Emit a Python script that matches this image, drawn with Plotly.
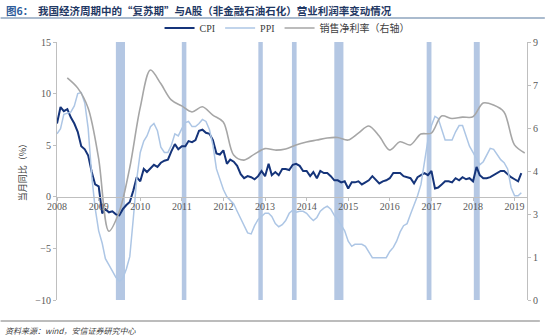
import plotly.graph_objects as go
import pandas as pd

# ---------------- data ----------------
months = pd.date_range("2008-01-01", "2019-03-01", freq="MS").strftime("%Y-%m-%d").tolist()

cpi = [7.1, 8.7, 8.3, 8.5, 7.7, 7.1, 6.3, 4.9, 4.6, 4.0, 2.4, 1.2,
       1.0, -1.6, -1.2, -1.5, -1.4, -1.7, -1.8, -1.2, -0.8, -0.5, 0.6, 1.9,
       1.5, 2.7, 2.4, 2.8, 3.1, 2.9, 3.3, 3.5, 3.6, 4.4, 5.1, 4.6,
       4.9, 4.9, 5.4, 5.3, 5.5, 6.4, 6.5, 6.2, 6.1, 5.5, 4.2, 4.1,
       4.5, 3.2, 3.6, 3.4, 3.0, 2.2, 1.8, 2.0, 1.9, 1.7, 2.0, 2.5,
       2.0, 3.2, 2.1, 2.4, 2.1, 2.7, 2.7, 2.6, 3.1, 3.2, 3.0, 2.5,
       2.5, 2.0, 2.4, 1.8, 2.5, 2.3, 2.3, 2.0, 1.6, 1.6, 1.4, 1.5,
       0.8, 1.4, 1.4, 1.5, 1.2, 1.4, 1.6, 2.0, 1.6, 1.3, 1.5, 1.6,
       1.8, 2.3, 2.3, 2.3, 2.0, 1.9, 1.8, 1.3, 1.9, 2.1, 2.3, 2.1,
       2.5, 0.8, 0.9, 1.2, 1.5, 1.5, 1.4, 1.8, 1.6, 1.9, 1.7, 1.8,
       1.5, 2.9, 2.1, 1.8, 1.8, 1.9, 2.1, 2.3, 2.5, 2.5, 2.2, 1.9,
       1.7, 1.5, 2.3]

ppi = [6.1, 6.6, 8.0, 8.1, 8.2, 8.8, 10.0, 10.1, 9.1, 6.6, 2.0, -1.1,
       -3.3, -4.5, -6.0, -6.6, -7.2, -7.8, -8.2, -7.9, -7.0, -5.8, -2.1, 1.7,
       4.3, 5.4, 5.9, 6.8, 7.1, 6.4, 4.8, 4.3, 4.3, 5.0, 6.1, 5.9,
       6.6, 7.2, 7.3, 6.8, 6.8, 7.1, 7.5, 7.3, 6.5, 5.0, 2.7, 1.7,
       0.7, 0.0, -0.3, -0.7, -1.4, -2.1, -2.9, -3.5, -3.6, -2.8, -2.2, -1.9,
       -1.6, -1.6, -1.9, -2.6, -2.9, -2.7, -2.3, -1.6, -1.3, -1.5, -1.4, -1.4,
       -1.6, -2.0, -2.3, -2.0, -1.4, -1.1, -0.9, -1.2, -1.8, -2.2, -2.7, -3.3,
       -4.3, -4.8, -4.6, -4.6, -4.6, -4.8, -5.4, -5.9, -5.9, -5.9, -5.9, -5.9,
       -5.3, -4.9, -4.3, -3.4, -2.8, -2.6, -1.7, -0.8, 0.1, 1.2, 3.3, 5.5,
       6.9, 7.8, 7.6, 6.4, 5.5, 5.5, 5.5, 6.3, 6.9, 6.9, 5.8, 4.9,
       4.3, 3.7, 3.1, 3.4, 4.1, 4.7, 4.6, 4.1, 3.6, 3.3, 2.7, 0.9,
       0.1, 0.1, 0.4]

quarters = ["2008-03-31", "2008-06-30", "2008-09-30", "2008-12-31",
            "2009-03-31", "2009-06-30", "2009-09-30", "2009-12-31",
            "2010-03-31", "2010-06-30", "2010-09-30", "2010-12-31",
            "2011-03-31", "2011-06-30", "2011-09-30", "2011-12-31",
            "2012-03-31", "2012-06-30", "2012-09-30", "2012-12-31",
            "2013-03-31", "2013-06-30", "2013-09-30", "2013-12-31",
            "2014-03-31", "2014-06-30", "2014-09-30", "2014-12-31",
            "2015-03-31", "2015-06-30", "2015-09-30", "2015-12-31",
            "2016-03-31", "2016-06-30", "2016-09-30", "2016-12-31",
            "2017-03-31", "2017-06-30", "2017-09-30", "2017-12-31",
            "2018-03-31", "2018-06-30", "2018-09-30", "2018-12-31",
            "2019-03-31"]
net_margin = [7.75, 7.40, 6.70, 4.95,
              2.40, 3.07, 4.60, 6.70,
              8.02, 7.55, 6.98, 6.77,
              6.56, 6.74, 6.45, 6.21,
              5.06, 4.88, 5.09, 5.28,
              5.23, 5.27, 5.41, 5.51,
              5.58, 5.65, 5.67, 5.58,
              5.82, 6.07, 5.72, 5.23,
              5.52, 5.41, 5.79, 5.82,
              6.42, 6.33, 6.38, 6.39,
              6.87, 6.80, 6.56, 5.41,
              5.13]

recovery_start = ["2009-06-01", "2011-01-01", "2012-11-03", "2013-08-25",
                  "2014-09-01", "2016-11-20", "2018-01-08"]
recovery_end = ["2009-08-20", "2011-02-10", "2012-12-12", "2013-10-05",
                "2014-11-20", "2017-01-01", "2018-03-01"]

year_ticks = [f"{y}-01-01" for y in range(2008, 2020)]
year_labels = [str(y) for y in range(2008, 2020)]
right_tickvals = [0, 1.5, 3, 4.5, 6, 7.5, 9]
right_ticktext = ["0", "1", "3", "4", "6", "7", "9"]

# ---------------- figure ----------------
W, H = 550, 336
ML, MR, MT, MB = 57, 18, 42, 36
pw, ph = W - ML - MR, H - MT - MB

def px_x(p):
    return (p - ML) / pw

def px_y(p):
    return (H - MB - p) / ph

fig = go.Figure()

for s, e in zip(recovery_start, recovery_end):
    fig.add_vrect(x0=s, x1=e, fillcolor="#B4C7E3", line_width=0, layer="below", opacity=1)

fig.add_trace(go.Scatter(x=months, y=cpi, name="CPI", mode="lines",
                         line=dict(color="#15347A", width=2)))
fig.add_trace(go.Scatter(x=months, y=ppi, name="PPI", mode="lines",
                         line=dict(color="#ADC6E5", width=1.5)))
fig.add_trace(go.Scatter(x=quarters, y=net_margin, name="销售净利率（右轴）", mode="lines",
                         line=dict(color="#A6A6A6", width=1.6, shape="spline", smoothing=0.9),
                         yaxis="y2"))

tickfont = dict(family="Liberation Serif", size=10, color="#595959")

fig.update_layout(
    width=W, height=H,
    margin=dict(l=ML, r=MR, t=MT, b=MB),
    paper_bgcolor="white", plot_bgcolor="white",
    showlegend=True,
    legend=dict(orientation="h", x=px_x(290), y=px_y(28), xanchor="center", yanchor="middle",
                font=dict(family="Liberation Serif, Noto Sans CJK SC", size=10, color="#404040"),
                bgcolor="rgba(0,0,0,0)", itemwidth=30, tracegroupgap=0),
    xaxis=dict(type="date", range=["2008-01-01", "2019-04-20"],
               tickvals=year_ticks, ticktext=year_labels,
               anchor="free", position=0.4,
               showline=True, linecolor="#BFBFBF", linewidth=1,
               ticks="outside", ticklen=3, tickcolor="#BFBFBF",
               ticklabelstandoff=-3,
               showgrid=False, zeroline=False, tickfont=tickfont),
    yaxis=dict(range=[-10, 15], tickvals=[-10, -5, 0, 5, 10, 15],
               showline=True, linecolor="#BFBFBF", linewidth=1,
               ticks="outside", ticklen=3, tickcolor="#BFBFBF",
               showgrid=False, zeroline=False, tickfont=tickfont),
    yaxis2=dict(range=[0, 9], overlaying="y", side="right",
                tickvals=right_tickvals, ticktext=right_ticktext,
                showline=True, linecolor="#BFBFBF", linewidth=1,
                ticks="outside", ticklen=3, tickcolor="#BFBFBF",
                showgrid=False, zeroline=False, tickfont=tickfont),
)

# title
fig.add_annotation(xref="paper", yref="paper", x=px_x(3), y=px_y(10), xanchor="left", yanchor="middle",
                   showarrow=False,
                   text="<b><span style='color:#2E5C9A'>图6：</span>  我国经济周期中的“复苏期”与A股（非金融石油石化）营业利润率变动情况</b>",
                   font=dict(family="Noto Sans CJK SC", size=10.5, color="#1F3864"))
# rule under the title
fig.add_shape(type="line", xref="paper", yref="paper", x0=px_x(0), x1=px_x(550), y0=px_y(18), y1=px_y(18),
              line=dict(color="#8EA4BE", width=1.5))
# bottom rule
fig.add_shape(type="line", xref="paper", yref="paper", x0=px_x(0), x1=px_x(545), y0=px_y(321), y1=px_y(321),
              line=dict(color="#A6A6A6", width=1.5))
# source
fig.add_annotation(xref="paper", yref="paper", x=px_x(2), y=px_y(330), xanchor="left", yanchor="middle",
                   showarrow=False, text="<i>资料来源：wind，安信证券研究中心</i>",
                   font=dict(family="Noto Sans CJK SC", size=8, color="#404040"))
# y-axis title
fig.add_annotation(xref="paper", yref="paper", x=px_x(22), y=px_y(170), xanchor="center", yanchor="middle",
                   showarrow=False, textangle=-90, text="当月同比（%）",
                   font=dict(family="Noto Sans CJK SC", size=9, color="#404040"))

fig.write_html("out.html")
